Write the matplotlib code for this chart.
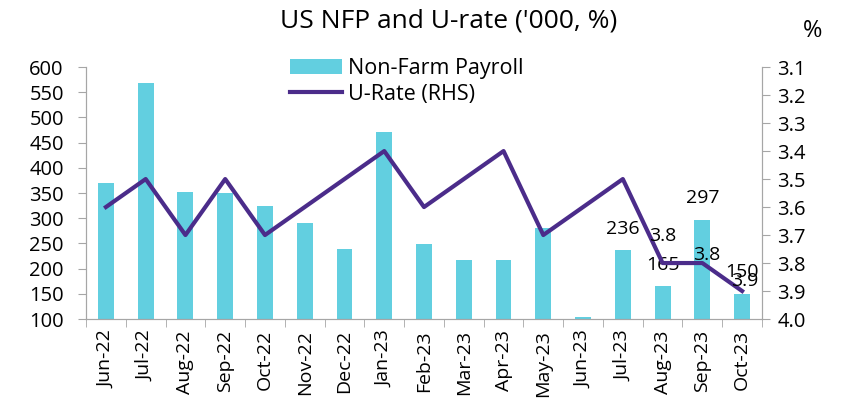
import numpy as np
import matplotlib.pyplot as plt

plt.rcParams['font.family'] = ['Open Sans', 'DejaVu Sans']

months = ["Jun-22", "Jul-22", "Aug-22", "Sep-22", "Oct-22", "Nov-22", "Dec-22", "Jan-23",
          "Feb-23", "Mar-23", "Apr-23", "May-23", "Jun-23", "Jul-23", "Aug-23", "Sep-23", "Oct-23"]
nfp = [370, 568, 352, 350, 324, 290, 239, 472, 248, 217, 217, 281, 105, 236, 165, 297, 150]
urate = [3.6, 3.5, 3.7, 3.5, 3.7, 3.6, 3.5, 3.4, 3.6, 3.5, 3.4, 3.7, 3.6, 3.5, 3.8, 3.8, 3.9]

bar_color = "#62CFE0"
line_color = "#4B2C8A"
grey = "#A6A6A6"

fig = plt.figure(figsize=(8.46, 4.09), dpi=100)
ax = fig.add_axes([0.1017, 0.22, 0.799, 0.616])
ax2 = ax.twinx()

x = np.arange(len(months))
bars = ax.bar(x, nfp, width=0.4, color=bar_color, label="Non-Farm Payroll", zorder=2)
line, = ax2.plot(x, urate, color=line_color, lw=3, label="U-Rate (RHS)", zorder=3)

ax.set_ylim(100, 600)
ax.set_yticks(range(100, 601, 50))
ax.set_xlim(-0.5, len(months) - 0.5)
ax.set_xticks(x)
ax.set_xticklabels(months, rotation=90)
ax.set_xticks(np.arange(-0.5, len(months)), minor=True)
ax.tick_params(axis="x", which="major", length=0, pad=8, labelsize=14)
ax.tick_params(axis="x", which="minor", length=6, color=grey)
ax.tick_params(axis="y", length=6, color=grey, labelsize=14.5, pad=10)

ax2.set_ylim(4.0, 3.1)
ax2.set_yticks(np.arange(3.1, 4.01, 0.1))
ax2.set_yticklabels([f"{v:.1f}" for v in np.arange(3.1, 4.01, 0.1)])
ax2.tick_params(axis="y", length=6, color=grey, labelsize=14.5, pad=5)

for a in (ax, ax2):
    a.spines["top"].set_visible(False)
    for s in ("left", "right", "bottom"):
        a.spines[s].set_color(grey)

# data labels for the last months
for i in range(13, 17):
    ax.annotate(str(nfp[i]), (x[i], nfp[i]), xytext=(0, 9), textcoords="offset points",
                ha="center", va="bottom", fontsize=14)
offsets = {14: (0, 13), 15: (3, -1), 16: (2, 1)}
for i, (dx, dy) in offsets.items():
    ax2.annotate(f"{urate[i]:.1f}", (x[i], urate[i]), xytext=(dx, dy), textcoords="offset points",
                 ha="center", va="bottom", fontsize=14)

fig.legend(handles=[bars, line], loc="upper left", bbox_to_anchor=(0.32, 0.905),
           frameon=False, fontsize=15.5, handlelength=2.4, handletextpad=0.3,
           labelspacing=0.2)

fig.suptitle("US NFP and U-rate ('000, %)", x=0.53, y=0.98, fontsize=19)
fig.text(0.96, 0.91, "%", fontsize=17, ha="center")

fig.savefig("out.png", dpi=100)
